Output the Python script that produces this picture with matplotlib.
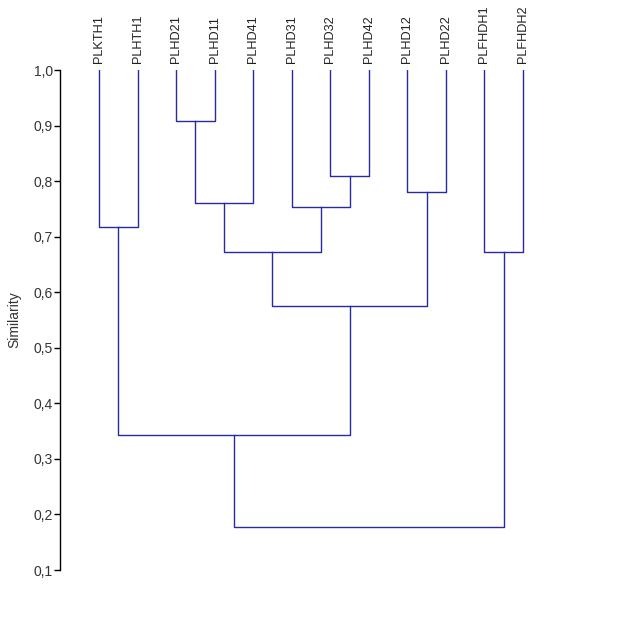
import matplotlib
matplotlib.use('Agg')
import matplotlib.pyplot as plt

# Leaf labels, left to right
leaves = ['PLKTH1', 'PLHTH1', 'PLHD21', 'PLHD11', 'PLHD41', 'PLHD31',
          'PLHD32', 'PLHD42', 'PLHD12', 'PLHD22', 'PLFHDH1', 'PLFHDH2']

# Merges: (left cluster, right cluster, similarity); new clusters numbered from 12
merge_left = [2, 6, 8, 12, 5, 0, 15, 10, 18, 17, 21]
merge_right = [3, 7, 9, 4, 13, 1, 16, 11, 14, 20, 19]
merge_sim = [0.908, 0.809, 0.780, 0.761, 0.753, 0.717, 0.672, 0.672, 0.575, 0.343, 0.177]

ticks = [0.1, 0.2, 0.3, 0.4, 0.5, 0.6, 0.7, 0.8, 0.9, 1.0]
line_color = '#2a2aa0'

plt.rcParams['font.family'] = ['Liberation Sans', 'DejaVu Sans']

fig = plt.figure(figsize=(6.22, 6.43), dpi=100)
W, H = 622, 643
ax = fig.add_axes([60 / W, (H - 570) / H, (600 - 60) / W, 500 / H])

# cluster positions: x and height
xpos = {i: float(i) for i in range(len(leaves))}
ypos = {i: 1.0 for i in range(len(leaves))}
for k, (a, b, s) in enumerate(zip(merge_left, merge_right, merge_sim)):
    c = len(leaves) + k
    xa, xb = xpos[a], xpos[b]
    ax.plot([xa, xa, xb, xb], [ypos[a], s, s, ypos[b]], color=line_color, lw=1)
    xpos[c] = (xa + xb) / 2
    ypos[c] = s

for i, name in enumerate(leaves):
    ax.annotate(name, (i, 1.0), xytext=(0, 5), textcoords='offset points',
                rotation=90, ha='center', va='bottom', fontsize=9.2, color='#222222',
                annotation_clip=False)

ax.set_xlim(-1.012, 13.0)
ax.set_ylim(0.1, 1.0)
ax.set_yticks(ticks)
ax.set_yticklabels([f'{t:.1f}'.replace('.', ',') for t in ticks], fontsize=10, color='#333333')
ax.tick_params(axis='y', direction='out', length=4, width=1, pad=1)
ax.set_xticks([])
for side in ['top', 'right', 'bottom']:
    ax.spines[side].set_visible(False)
ax.spines['left'].set_linewidth(1)
ax.set_ylabel('Similarity', fontsize=10, color='#333333', labelpad=9)

fig.savefig('out.png', dpi=100)
